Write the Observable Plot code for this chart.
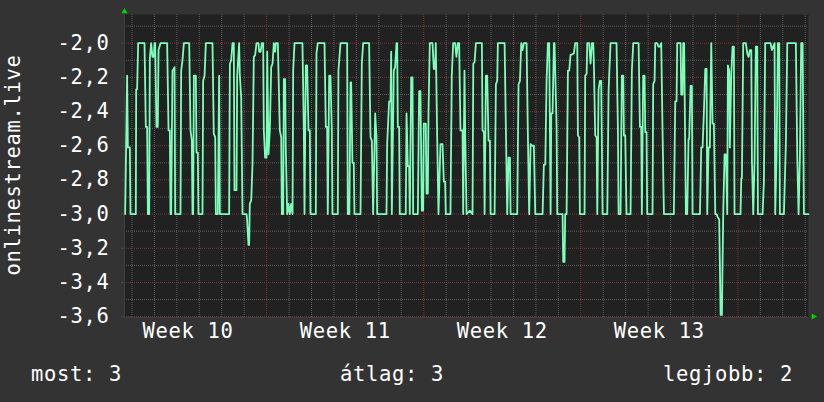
<!DOCTYPE html>
<html>
<head>
<meta charset="utf-8">
<script src="https://cdn.jsdelivr.net/npm/d3@7"></script>
<script src="https://cdn.jsdelivr.net/npm/@observablehq/plot@0.6"></script>
<style>
  html, body { margin: 0; padding: 0; background: #333333; }
  #chart { width: 824px; height: 402px; }
</style>
</head>
<body>
<div id="chart"></div>
<script>
// ---- data (hours after 2024-03-04 16:00 UTC, value) ----
const seriesName = "onlinestream.live";
const hours = [
0.7,2.8,3.6,5.7,6.4,12.1,12.5,13.5,14.6,21.4,22.8,24.2,25.0,26.4,27.1,28.5,29.9,31.4,32.1,32.8,34.2,35.6,36.4,38.5,45.6,47.1,48.5,49.2,49.9,51.3,52.8,53.5,54.2,59.9,60.6,62.0,63.5,69.2,70.6,72.0,72.7,73.4,74.2,76.3,77.0,78.4,79.1,83.4,84.1,85.6,87.0,94.1,95.5,97.0,97.7,99.8,101.2,102.0,111.9,112.7,114.1,115.5,116.9,117.6,119.8,120.5,122.6,123.3,124.8,126.2,130.5,131.2,132.6,133.3,134.0,135.5,136.9,138.3,139.7,141.2,143.3,144.0,145.5,146.9,148.3,149.0,150.4,151.9,152.6,154.0,155.4,156.9,158.3,159.7,161.1,161.9,164.0,166.1,167.6,168.3,169.7,170.4,171.8,172.5,174.0,175.4,176.8,178.2,179.7,180.4,
181.8,190.3,191.8,192.5,193.9,195.3,196.8,198.2,198.9,204.6,205.3,206.7,213.9,215.3,216.7,217.4,218.9,220.3,221.7,222.4,228.1,228.8,231.0,238.1,238.8,240.5,241.7,242.4,243.8,245.2,245.9,252.4,253.8,255.2,261.6,263.1,264.5,265.9,268.1,269.5,270.2,280.2,280.9,283.0,284.5,285.2,285.9,288.0,289.4,290.9,291.6,292.3,293.7,294.4,300.8,301.6,303.0,304.4,305.1,306.6,308.0,308.7,313.7,315.1,316.5,318.0,319.4,320.1,322.2,323.0,324.4,325.1,326.5,329.4,330.8,332.2,332.9,334.4,335.8,337.9,340.1,341.5,342.9,343.6,348.6,350.0,351.5,353.6,355.0,356.5,357.9,359.3,361.5,362.2,363.6,
364.4,365.8,369.4,372.2,373.0,374.4,375.8,382.2,382.9,384.4,385.1,386.5,387.9,389.3,390.8,391.5,395.8,397.2,398.6,399.3,406.5,407.9,409.3,410.7,412.2,412.9,420.0,421.4,422.9,424.3,425.7,427.1,430.0,431.4,432.8,434.3,435.7,437.8,439.3,447.1,448.5,450.0,451.4,452.8,454.2,455.7,456.4,457.8,459.2,459.9,462.1,462.8,468.5,469.2,470.6,471.3,472.8,474.2,475.6,477.0,480.6,482.0,484.2,484.9,486.3,487.0,492.0,492.7,494.2,494.9,497.0,498.4,499.9,501.3,502.0,503.4,504.9,505.6,507.0,508.4,509.8,511.3,516.3,517.7,518.4,519.8,526.2,527.7,528.4,530.5,531.9,533.4,534.1,535.5,536.9,541.2,542.6,544.1,
549.8,551.2,552.6,553.3,554.7,556.2,556.9,558.3,559.0,564.7,565.4,566.9,567.6,569.7,571.1,572.6,574.0,575.4,576.9,587.5,589.0,590.4,591.1,594.7,595.4,596.8,597.5,598.5,600.4,601.8,603.2,603.9,605.4,606.8,607.5,615.4,616.8,618.2,619.6,621.1,622.5,623.2,624.6,626.0,627.5,628.9,630.3,631.8,633.2,634.6,636.0,637.5,638.9,639.6,640.3,641.7,643.2,644.6,645.3,646.7,647.4,648.9,650.3,651.7,652.4,658.8,659.6,660.3,661.7,664.5,666.0,667.4,668.8,670.3,671.0,672.4,673.8,675.2,676.7,677.4,682.4,683.8,685.2,690.9,692.4,693.8,695.2,695.9,697.3,698.8,700.2,700.9,705.2,707.3,708.8,718.0,719.5,720.9,722.3,723.7,725.2,726.6,731.5
];
const values = [
-3.00,-2.19,-2.61,-2.61,-3.00,-3.00,-2.27,-2.27,-2.00,-2.00,-2.49,-2.49,-3.00,-3.00,-2.09,-2.00,-2.08,-2.08,-2.00,-2.00,-2.49,-2.49,-2.04,-2.00,-2.00,-2.51,-2.51,-3.00,-3.00,-2.16,-2.15,-2.14,-3.00,-3.00,-2.16,-2.10,-2.00,-2.00,-2.51,-2.57,-3.00,-3.00,-2.19,-2.19,-2.64,-2.64,-3.00,-3.00,-2.22,-2.19,-2.00,-2.00,-2.53,-2.55,-3.00,-3.00,-2.19,-3.00,-3.00,-2.12,-2.10,-2.00,-2.00,-2.86,-2.86,-2.19,-2.00,-2.18,-2.32,-3.00,-3.00,-3.04,-3.18,-3.18,-2.94,-2.92,-2.71,-2.08,-2.07,-2.00,-2.00,-2.05,-2.05,-2.00,-2.00,-2.51,-2.67,-2.67,-2.05,-2.65,-2.51,-2.14,-2.12,-2.00,-2.05,-2.00,-2.00,-2.51,-2.55,-3.00,-3.00,-2.21,-2.21,-2.61,-3.00,-2.94,-3.00,-2.94,-3.00,-2.16,
-2.00,-2.00,-2.51,-3.00,-2.13,-2.13,-2.51,-2.51,-3.00,-3.00,-2.06,-2.00,-2.00,-2.49,-2.49,-3.00,-2.19,-2.19,-2.51,-3.00,-3.00,-2.16,-2.00,-2.00,-3.00,-3.00,-2.23,-2.23,-2.70,-2.70,-3.00,-3.00,-2.12,-2.00,-2.00,-2.55,-2.57,-3.00,-2.41,-2.55,-3.00,-3.00,-2.59,-2.34,-2.34,-2.05,-3.00,-2.16,-2.14,-2.00,-2.00,-2.49,-2.49,-3.00,-3.00,-2.41,-2.72,-2.72,-3.00,-2.20,-2.20,-3.00,-3.00,-2.28,-2.28,-2.98,-2.98,-2.47,-2.47,-2.88,-2.88,-2.41,-2.00,-2.00,-2.15,-2.15,-2.00,-2.55,-3.00,-2.59,-2.59,-2.81,-2.81,-3.00,-3.00,-2.19,-2.00,-2.00,-2.08,-2.00,-2.00,-2.51,-2.51,-3.00,-2.16,
-2.55,-3.00,-2.98,-3.00,-2.12,-2.11,-2.00,-2.00,-2.51,-2.52,-3.00,-2.19,-2.19,-2.57,-2.57,-3.00,-3.00,-2.24,-2.22,-2.00,-2.00,-2.51,-3.00,-2.67,-2.67,-3.00,-3.00,-2.24,-2.22,-2.00,-2.04,-2.00,-2.00,-2.54,-3.00,-2.59,-2.60,-2.60,-3.00,-3.00,-2.71,-2.71,-2.22,-2.00,-2.00,-3.00,-2.41,-2.41,-2.00,-2.00,-2.49,-3.00,-3.00,-3.28,-3.28,-3.00,-3.00,-2.16,-2.16,-2.07,-2.06,-2.00,-2.00,-2.54,-2.55,-3.00,-3.00,-2.19,-2.18,-2.00,-2.00,-2.12,-2.00,-2.00,-2.12,-2.54,-2.55,-3.00,-2.27,-2.22,-2.22,-3.00,-3.00,-2.28,-2.18,-2.00,-2.00,-2.51,-3.00,-3.00,-2.19,-2.19,-2.54,-2.54,-3.00,-3.00,-2.16,-2.00,
-2.00,-2.49,-2.49,-3.00,-2.19,-2.19,-2.52,-2.52,-3.00,-3.00,-2.24,-2.22,-2.00,-2.00,-2.02,-2.02,-2.00,-2.51,-3.00,-3.00,-2.34,-2.34,-2.00,-2.00,-2.30,-2.30,-2.00,-2.00,-3.00,-3.00,-2.56,-2.56,-2.25,-2.25,-3.00,-3.00,-2.61,-2.61,-2.41,-2.15,-2.15,-3.00,-2.61,-2.61,-2.00,-2.47,-2.47,-3.00,-3.00,-3.02,-3.03,-3.59,-3.59,-3.28,-3.00,-2.65,-2.65,-3.00,-2.13,-2.16,-2.61,-2.18,-2.02,-2.02,-3.00,-3.00,-2.79,-2.79,-2.00,-2.00,-2.06,-2.08,-2.04,-2.04,-2.69,-3.00,-2.69,-2.02,-2.02,-3.00,-3.00,-2.81,-2.00,-2.00,-2.04,-2.02,-2.00,-3.00,-2.67,-2.00,-2.00,-3.00,-3.00,-2.59,-2.00,-2.00,-2.67,-3.00,-2.67,-2.00,-2.00,-3.00,-3.00
];
const yTickValues = [-3.6, -3.4, -3.2, -3.0, -2.8, -2.6, -2.4, -2.2, -2.0];
const yMinorValues = [-3.5, -3.3, -3.1, -2.9, -2.7, -2.5, -2.3, -2.1, -1.9];
const weekLabels = ["Week 10", "Week 11", "Week 12", "Week 13"];
const weekLabelDates = ["2024-03-07T12:00Z", "2024-03-14T12:00Z", "2024-03-21T12:00Z", "2024-03-28T12:00Z"];
const legendLabels = ["most: 3", "átlag: 3", "legjobb: 2"];

// ---- build ----
const HOUR = 3600e3;
const t0 = new Date(Date.UTC(2024, 2, 4, 16));
const t1 = new Date(+t0 + 731.5 * HOUR);
const yDomain = [-3.605, -1.832];
const data = hours.map((h, i) => ({t: new Date(+t0 + h * HOUR), v: values[i]}));
const weekDates = weekLabelDates.map(s => new Date(s));
const dayLines = d3.utcDay.range(t0, t1).filter(d => d.getUTCDay() !== 1);
const weekLines = d3.utcMonday.range(t0, t1);

const FONT = "'DejaVu Sans Mono', monospace";
const FS = 20.5;
const LS = "0.66px";
const fmt = d => d.toFixed(1).replace(".", ",");

const chart = Plot.plot({
  width: 824,
  height: 402,
  marginLeft: 124,
  marginRight: 16,
  marginTop: 14,
  marginBottom: 85,
  style: {background: "transparent", color: "#ffffff", fontFamily: FONT, fontSize: FS + "px", letterSpacing: LS, overflow: "visible"},
  x: {type: "utc", domain: [t0, t1], label: null},
  y: {domain: yDomain, label: null},
  marks: [
    Plot.frame({fill: "#212121", stroke: null}),
    Plot.ruleY(yMinorValues, {stroke: "#5e5e5e", strokeDasharray: "1,1"}),
    Plot.ruleX(dayLines, {stroke: "#5e5e5e", strokeDasharray: "1,1"}),
    Plot.ruleY(yTickValues, {stroke: "#7e3535", strokeDasharray: "1,1"}),
    Plot.ruleX(weekLines, {stroke: "#7e3535", strokeDasharray: "1,1"}),
    Plot.ruleX([t0], {stroke: "#3e3e3e"}),
    Plot.ruleY([yDomain[0]], {stroke: "#3e3e3e"}),
    Plot.axisY(yTickValues, {
      anchor: "left", label: null, tickSize: 3, tickPadding: 12, stroke: "#4a4a4a",
      tickFormat: fmt, fontSize: FS, fontFamily: FONT, fill: "#ffffff"
    }),
    Plot.axisX(weekDates, {
      anchor: "bottom", label: null, tickSize: 0, tickPadding: 6,
      tickFormat: d => weekLabels[weekDates.findIndex(w => +w === +d)],
      fontSize: FS, fontFamily: FONT, fill: "#ffffff"
    }),
    Plot.lineY(data, {x: "t", y: "v", stroke: "#7dffbb", strokeWidth: 1.8}),
    Plot.dot([{t: t0, v: yDomain[1]}], {x: "t", y: "v", dy: -3, symbol: "triangle", r: 2.3, fill: "#00d000", stroke: null}),
    Plot.dot([{t: t1, v: yDomain[0]}], {x: "t", y: "v", dx: 5, dy: -1, rotate: 90, symbol: "triangle", r: 2.3, fill: "#00d000", stroke: null})
  ]
});

const svg = d3.select(chart);
svg.append("text")
  .attr("transform", "translate(19.5,165) rotate(-90)")
  .attr("text-anchor", "middle")
  .attr("fill", "#ffffff")
  .style("font-family", FONT).style("font-size", FS + "px").style("letter-spacing", LS)
  .text(seriesName);
const legendPos = [{x: 31, a: "start"}, {x: 392, a: "middle"}, {x: 793, a: "end"}];
legendLabels.forEach((s, i) => {
  svg.append("text")
    .attr("x", legendPos[i].x).attr("y", 381)
    .attr("text-anchor", legendPos[i].a)
    .attr("fill", "#ffffff")
    .style("font-family", FONT).style("font-size", FS + "px").style("letter-spacing", LS)
    .text(s);
});
document.getElementById("chart").appendChild(chart);
</script>
</body>
</html>
